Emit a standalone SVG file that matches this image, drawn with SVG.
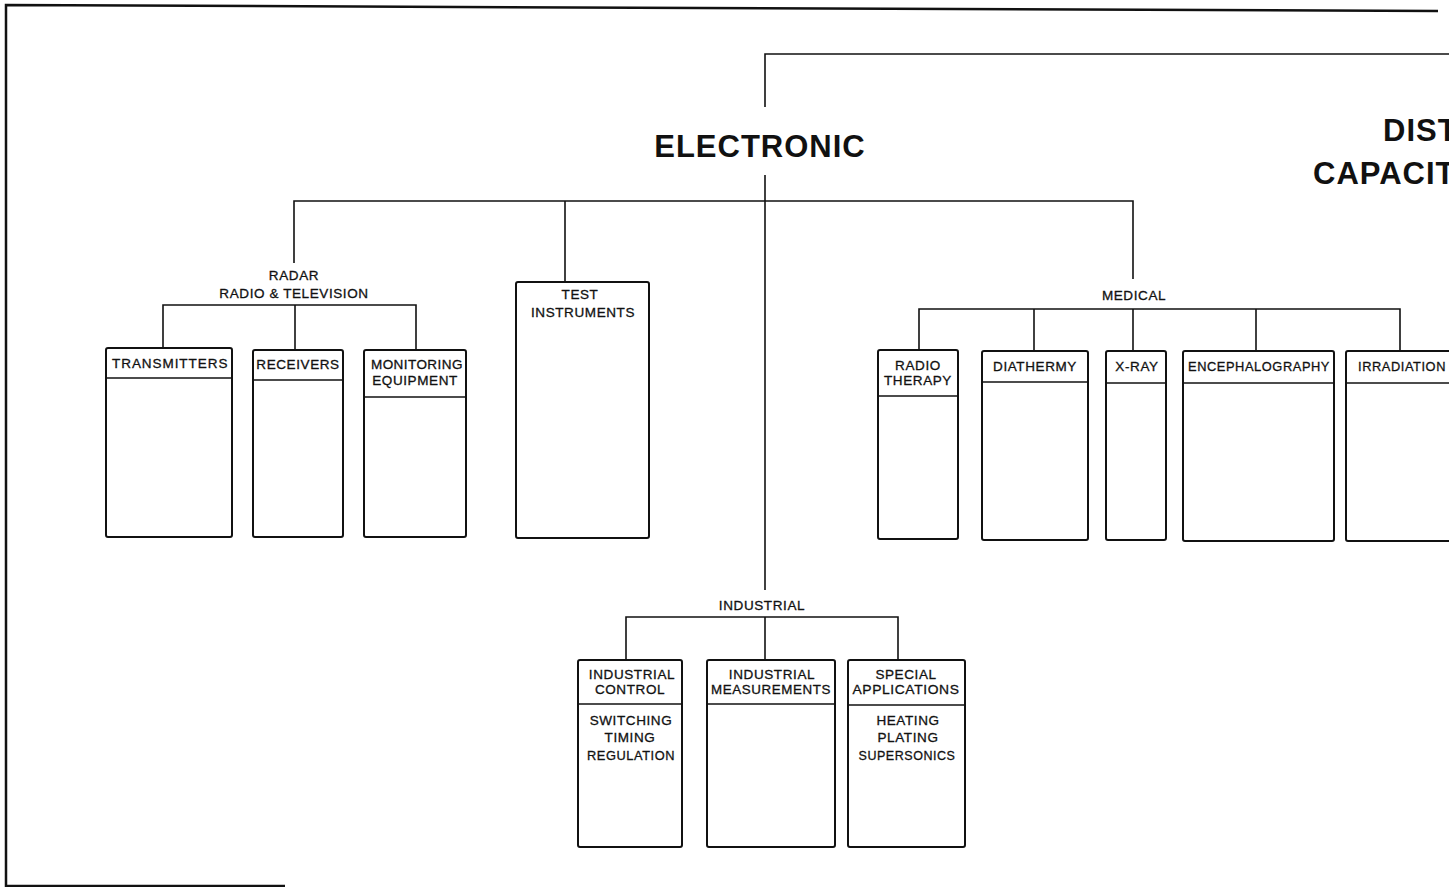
<svg xmlns="http://www.w3.org/2000/svg" width="1449" height="887" viewBox="0 0 1449 887">
<style>
.bx{fill:none;stroke:#111;stroke-width:2}
.dv{stroke:#111;stroke-width:1.6}
.cn{fill:none;stroke:#111;stroke-width:1.6}
.fr{fill:none;stroke:#111;stroke-width:2.5}
.t{font-family:"Liberation Sans",Arial,sans-serif;font-size:13.5px;letter-spacing:0.6px;fill:#111;stroke:#111;stroke-width:0.3;text-anchor:middle}
.big{font-family:"Liberation Sans",Arial,sans-serif;font-size:31px;font-weight:bold;letter-spacing:1px;fill:#111;text-anchor:middle}
</style>
<rect width="1449" height="887" fill="#fff"/>
<g id="frame">
<polyline class="fr" points="1438,11 700,8 6,5 6,886 285,886"/>
</g>
<g id="connectors">
<polyline class="cn" points="765,107 765,54 1449,54"/>
<line class="cn" x1="765" y1="175" x2="765" y2="590"/>
<polyline class="cn" points="294,263 294,201 1133,201 1133,279"/>
<line class="cn" x1="565" y1="201" x2="565" y2="282"/>
<polyline class="cn" points="163,348 163,305 416,305 416,350"/>
<line class="cn" x1="295" y1="305" x2="295" y2="350"/>
<polyline class="cn" points="919,350 919,309 1400,309 1400,351"/>
<line class="cn" x1="1034" y1="309" x2="1034" y2="351"/>
<line class="cn" x1="1133" y1="309" x2="1133" y2="351"/>
<line class="cn" x1="1256" y1="309" x2="1256" y2="351"/>
<polyline class="cn" points="626,660 626,617 898,617 898,660"/>
<line class="cn" x1="765" y1="617" x2="765" y2="660"/>
</g>
<g id="electronic"><text class="big" x="760" y="157">ELECTRONIC</text></g>
<g id="dist"><text class="big" x="1383" y="141" style="text-anchor:start">DIST</text><text class="big" x="1313" y="184" style="text-anchor:start">CAPACIT</text></g>
<g id="radar"><text class="t" x="294" y="280">RADAR</text><text class="t" x="294" y="298">RADIO &amp; TELEVISION</text></g>
<g id="medical"><text class="t" x="1134" y="300">MEDICAL</text></g>
<g id="industrial"><text class="t" x="762" y="610">INDUSTRIAL</text></g>
<g id="transmitters"><rect class="bx" x="106" y="348" width="126" height="189" rx="2"/><line class="dv" x1="106" y1="378" x2="232" y2="378"/><text class="t" x="170" y="368" textLength="116" lengthAdjust="spacing">TRANSMITTERS</text></g>
<g id="receivers"><rect class="bx" x="253" y="350" width="90" height="187" rx="2"/><line class="dv" x1="253" y1="380" x2="343" y2="380"/><text class="t" x="298" y="369">RECEIVERS</text></g>
<g id="monitoring"><rect class="bx" x="364" y="350" width="102" height="187" rx="2"/><line class="dv" x1="364" y1="397" x2="466" y2="397"/><text class="t" x="417" y="369" textLength="92" lengthAdjust="spacing">MONITORING</text><text class="t" x="415" y="385">EQUIPMENT</text></g>
<g id="test"><rect class="bx" x="516" y="282" width="133" height="256" rx="2"/><text class="t" x="580" y="299">TEST</text><text class="t" x="583" y="317">INSTRUMENTS</text></g>
<g id="radiotherapy"><rect class="bx" x="878" y="350" width="80" height="189" rx="2"/><line class="dv" x1="878" y1="396" x2="958" y2="396"/><text class="t" x="918" y="370">RADIO</text><text class="t" x="918" y="385">THERAPY</text></g>
<g id="diathermy"><rect class="bx" x="982" y="351" width="106" height="189" rx="2"/><line class="dv" x1="982" y1="382" x2="1088" y2="382"/><text class="t" x="1035" y="371">DIATHERMY</text></g>
<g id="xray"><rect class="bx" x="1106" y="351" width="60" height="189" rx="2"/><line class="dv" x1="1106" y1="383" x2="1166" y2="383"/><text class="t" x="1137" y="371">X-RAY</text></g>
<g id="encephalography"><rect class="bx" x="1183" y="351" width="151" height="190" rx="2"/><line class="dv" x1="1183" y1="383" x2="1334" y2="383"/><text class="t" x="1259" y="371" textLength="142" lengthAdjust="spacingAndGlyphs">ENCEPHALOGRAPHY</text></g>
<g id="irradiation"><path class="bx" d="M1451,351 H1348 Q1346,351 1346,353 V539 Q1346,541 1348,541 H1451"/><line class="dv" x1="1346" y1="383" x2="1449" y2="383"/><text class="t" x="1402" y="371" textLength="88" lengthAdjust="spacingAndGlyphs">IRRADIATION</text></g>
<g id="indcontrol"><rect class="bx" x="578" y="660" width="104" height="187" rx="2"/><line class="dv" x1="578" y1="704" x2="682" y2="704"/><text class="t" x="632" y="679">INDUSTRIAL</text><text class="t" x="630" y="694">CONTROL</text><text class="t" x="631" y="725">SWITCHING</text><text class="t" x="630" y="742">TIMING</text><text class="t" x="631" y="760" textLength="88" lengthAdjust="spacingAndGlyphs">REGULATION</text></g>
<g id="indmeas"><rect class="bx" x="707" y="660" width="128" height="187" rx="2"/><line class="dv" x1="707" y1="704" x2="835" y2="704"/><text class="t" x="772" y="679">INDUSTRIAL</text><text class="t" x="771" y="694" textLength="120" lengthAdjust="spacingAndGlyphs">MEASUREMENTS</text></g>
<g id="special"><rect class="bx" x="848" y="660" width="117" height="187" rx="2"/><line class="dv" x1="848" y1="705" x2="965" y2="705"/><text class="t" x="906" y="679">SPECIAL</text><text class="t" x="906" y="694" textLength="107" lengthAdjust="spacingAndGlyphs">APPLICATIONS</text><text class="t" x="908" y="725">HEATING</text><text class="t" x="908" y="742">PLATING</text><text class="t" x="907" y="760" textLength="97" lengthAdjust="spacingAndGlyphs">SUPERSONICS</text></g>
</svg>
